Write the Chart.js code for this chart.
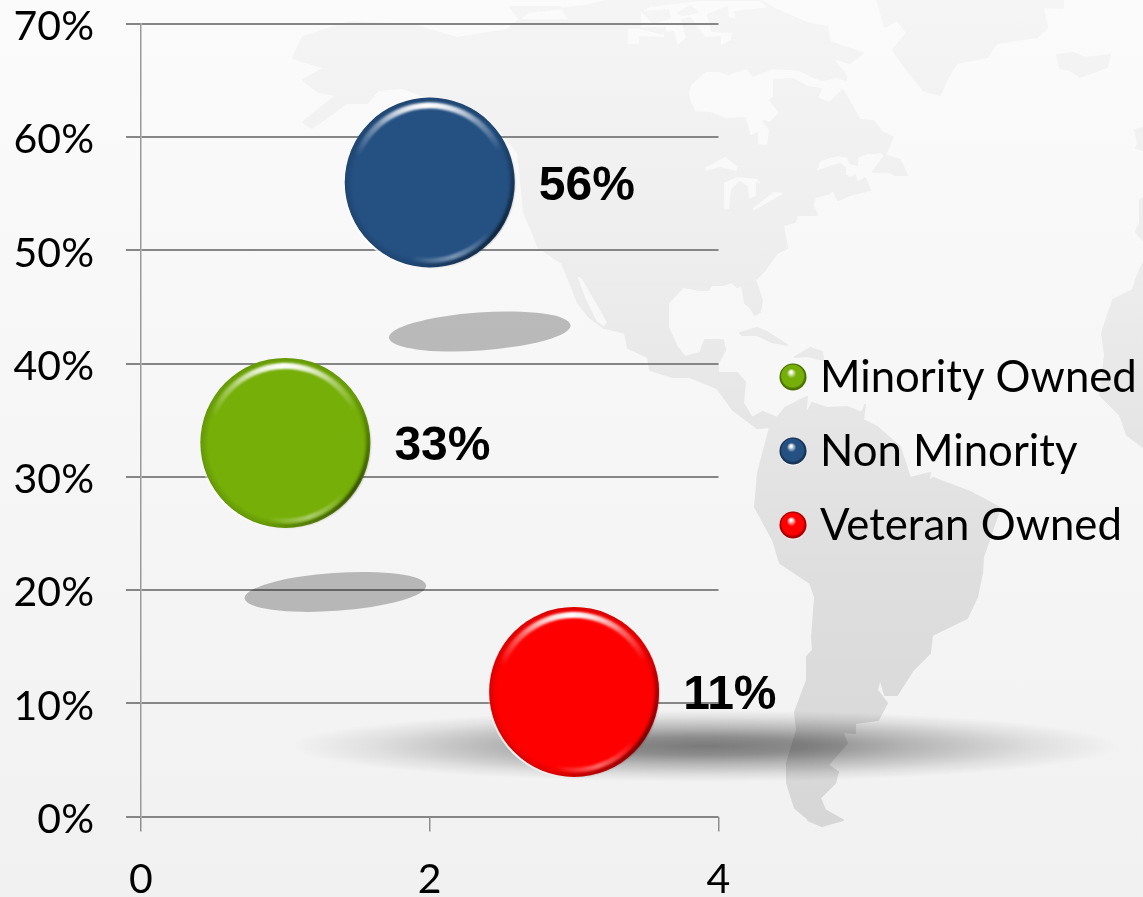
<!DOCTYPE html>
<html lang="en">
<head>
    <meta charset="UTF-8">
    <title>Ownership share</title>
    <script src="https://cdn.jsdelivr.net/npm/chart.js"></script>
    <style>
        html, body {
            margin: 0;
            padding: 0;
            width: 1143px;
            height: 897px;
            overflow: hidden;
        }

        #map, #chart {
            position: absolute;
            left: 0;
            top: 0;
        }
    </style>
</head>
<body>
    <!-- decorative world map behind the chart -->
    <svg id="map" width="1143" height="897" viewBox="0 0 1143 897">
        <defs>
            <linearGradient id="bg" x1="0" y1="0" x2="0" y2="1">
                <stop offset="0" stop-color="#fbfbfb"/>
                <stop offset="0.5" stop-color="#f6f6f6"/>
                <stop offset="1" stop-color="#f1f1f1"/>
            </linearGradient>
            <linearGradient id="land" gradientUnits="userSpaceOnUse" x1="0" y1="0" x2="0" y2="830">
                <stop offset="0" stop-color="#f5f5f5"/>
                <stop offset="0.3" stop-color="#eeeeee"/>
                <stop offset="0.5" stop-color="#e6e6e6"/>
                <stop offset="0.7" stop-color="#dedede"/>
                <stop offset="1" stop-color="#d6d6d6"/>
            </linearGradient>
            <radialGradient id="floor">
                <stop offset="0" stop-color="#000" stop-opacity="0.5"/>
                <stop offset="0.25" stop-color="#000" stop-opacity="0.42"/>
                <stop offset="0.5" stop-color="#000" stop-opacity="0.25"/>
                <stop offset="0.8" stop-color="#000" stop-opacity="0.08"/>
                <stop offset="1" stop-color="#000" stop-opacity="0"/>
            </radialGradient>
        </defs>
        <rect width="1143" height="897" fill="url(#bg)"/>
        <g stroke="url(#land)" stroke-width="2" stroke-linejoin="round">
        <path fill="url(#land)" fill-rule="evenodd" d="
            M303,37 L350,22 L413,25 L457,38 L507,30 L528,12 L585,6 L610,0 L760,0 L777,10 L807,23 L827,27 L830,42 L853,50 L863,53 L850,63 L832,58 L846,75 L846,80
            L837,77 L822,80 L813,77 L800,70 L773,68 L753,76 L747,68 L728,74 L720,71 L705,71 L690,85 L688,93 L690,103 L695,112 L710,113 L725,119 L745,118
            L750,137 L757,133 L757,145 L768,146 L770,130 L763,121 L770,123 L780,113 L770,100 L774,97 L774,80 L793,79 L808,87 L821,89 L817,98 L830,103 L843,90
            L860,120 L862,120 L873,121 L883,133 L893,137 L885,155 L880,152 L875,153 L867,153 L857,157 L857,165 L850,163 L848,157 L838,155 L820,160 L815,172
            L840,164 L845,168 L845,175 L850,178 L855,175 L857,183 L865,178 L870,190 L850,195 L838,200 L833,190 L830,193 L815,197 L813,205 L817,215 L797,215
            L795,222 L783,225 L787,248 L777,253 L765,270 L755,280 L762,300 L760,312 L755,315 L750,307 L745,303 L742,285 L737,287 L732,282 L722,285 L712,285
            L708,290 L700,290 L683,287 L668,303 L668,327 L677,347 L685,357 L700,353 L705,340 L723,340 L725,350 L718,363 L718,373 L737,373 L745,382 L743,403
            L752,418 L763,412 L777,418 L785,408 L807,397 L805,417 L812,403 L827,408 L847,407 L862,413 L865,405 L863,420 L877,427 L900,447 L910,478 L930,473
            L928,483 L920,490 L933,478 L970,492 L1000,508 L983,557 L982,573 L977,597 L967,618 L932,635 L930,653 L913,670 L897,695 L885,695 L880,678 L877,690
            L887,703 L878,720 L855,723 L855,733 L842,732 L847,743 L828,765 L838,772 L835,783 L820,798 L825,810 L843,820 L822,826 L808,820 L815,810 L807,818
            L795,808 L787,783 L787,763 L797,730 L795,712 L807,680 L807,657 L813,650 L812,637 L815,597 L810,583 L780,563 L773,540 L755,507 L758,473 L770,427
            L757,428 L733,410 L717,388 L690,377 L673,377 L650,370 L648,357 L628,348 L625,333 L605,328 L590,318 L578,303 L575,295 L562,263 L538,247 L533,233
            L524,213 L523,200 L518,153 L500,130 L460,110 L427,97 L403,88 L378,90 L367,103 L347,103 L312,128 L303,122 L337,95 L318,92 L303,80 L325,68 L293,58 Z
            M704,167 L725,156 L739,166 L737,172 L720,168 L705,172 Z
            M723,182 L737,176 L758,178 L764,188 L757,183 L757,197 L748,200 L747,187 L740,182 L732,190 L730,210 L723,210 Z
            M752,208 L773,191 L785,192 L783,195 L760,208 L753,212 Z
            M576,275 L582,277 L608,322 L604,328 L596,322 L585,300 Z
            M643,12 L668,10 L670,18 L653,23 Z
            M678,13 L690,6 L698,12 L683,15 Z
            M660,33 L673,32 L677,47 L687,38 L682,20 L690,18 L705,38 L720,37 L720,47 L732,40 L733,32 L712,31 L708,15 L727,7 L728,18 L737,20 L735,12 L770,8 L760,0 L700,0 L650,6 L640,12 L640,28 Z
            M640,37 L663,38 L665,45 L640,45 Z
            M510,7 L560,7 L570,20 L520,20 Z
            M627,28 L665,28 L665,44 L627,45 Z
        "/>
        <!-- Newfoundland, Greenland, Iceland, Caribbean, Africa and Europe -->
        <path fill="url(#land)" d="
            M885,155 L873,172 L890,172 L895,175 L907,175 L900,160 Z
            M877,0 L885,27 L897,20 L907,33 L893,50 L905,67 L923,90 L940,95 L948,77 L957,63 L987,57 L997,43 L1037,37 L1047,28 L1043,7 L1063,8 L1063,0 Z
            M1057,55 L1073,53 L1085,58 L1110,55 L1107,67 L1080,77 L1070,70 L1060,68 Z
            M740,333 L757,328 L767,332 L787,345 L772,342 L757,335 L742,335 Z
            M795,357 L810,348 L822,352 L823,360 L808,356 Z
            M1143,128 L1135,130 L1138,143 L1136,148 L1143,150 Z
            M1143,198 L1140,200 L1140,222 L1136,232 L1143,240 Z
            M1143,263 L1137,277 L1133,290 L1113,300 L1102,333 L1105,355 L1100,395 L1110,405 L1120,415 L1127,435 L1143,447 Z
        "/>
        </g>
        <ellipse cx="705" cy="746" rx="415" ry="36" fill="url(#floor)"/>
    </svg>

    <canvas id="chart" width="1143" height="897"></canvas>

    <script>
        var seriesNames = ['Minority Owned', 'Non Minority', 'Veteran Owned'];
        var xValues = [1, 2, 3];
        var yValues = [33, 56, 11];
        var seriesColors = ['#75af07', '#245082', '#fe0000'];
        var hasFloorShadow = [true, true, false];

        var BUBBLE_RADIUS = 85;
        var AXIS_FONT = 'Lato, "Noto Sans", sans-serif';

        // conic stroke, alpha peaks at "mid" degrees and fades out over "spread" degrees
        function arcGlow(c, x, y, r, width, rgb, alpha, mid, spread) {
            var start = (mid - spread) * Math.PI / 180;
            var g = c.createConicGradient(start, x, y);
            g.addColorStop(0, 'rgba(' + rgb + ',0)');
            g.addColorStop(spread / 360, 'rgba(' + rgb + ',' + alpha + ')');
            g.addColorStop(spread / 180, 'rgba(' + rgb + ',0)');
            c.strokeStyle = g;
            c.lineWidth = width;
            c.beginPath();
            c.arc(x, y, r, start, (mid + spread) * Math.PI / 180);
            c.stroke();
        }

        // floor shadows sit under the bubbles but above the grid
        var floorShadows = {
            id: 'floorShadows',
            beforeDatasetsDraw: function (chart) {
                var c = chart.ctx;
                chart.data.datasets.forEach(function (ds, i) {
                    if (!hasFloorShadow[i]) return;
                    var p = chart.getDatasetMeta(i).data[0];
                    c.save();
                    c.fillStyle = 'rgba(0,0,0,0.25)';
                    c.beginPath();
                    c.ellipse(p.x + 50, p.y + 149, 91, 19, -4 * Math.PI / 180, 0, Math.PI * 2);
                    c.fill();
                    c.restore();
                });
            }
        };

        // bevel on the bubbles plus the value labels beside them
        var bubbleDecor = {
            id: 'bubbleDecor',
            afterDatasetsDraw: function (chart) {
                var c = chart.ctx;
                chart.data.datasets.forEach(function (ds, i) {
                    var p = chart.getDatasetMeta(i).data[0];
                    var r = BUBBLE_RADIUS;
                    c.save();
                    var rim = c.createRadialGradient(p.x, p.y, r - 8, p.x, p.y, r);
                    rim.addColorStop(0, 'rgba(0,0,0,0)');
                    rim.addColorStop(1, 'rgba(0,0,0,0.14)');
                    c.fillStyle = rim;
                    c.beginPath();
                    c.arc(p.x, p.y, r, 0, Math.PI * 2);
                    c.fill();
                    c.filter = 'blur(1px)';
                    arcGlow(c, p.x, p.y, r - 2, 4, '0,0,0', 0.5, 35, 70);
                    arcGlow(c, p.x, p.y, r - 8, 6, '255,255,255', 1, 268, 68);
                    arcGlow(c, p.x, p.y, r - 8, 3, '255,255,255', 0.9, 268, 40);
                    arcGlow(c, p.x, p.y, r - 7, 5, '255,255,255', 0.4, 72, 32);
                    c.filter = 'none';
                    arcGlow(c, p.x, p.y, r + 1, 2, '255,255,255', 0.9, 135, 45);
                    c.restore();

                    c.save();
                    c.fillStyle = '#000';
                    c.font = 'bold 48px "Liberation Sans", Arial, sans-serif';
                    c.textAlign = 'left';
                    c.textBaseline = 'middle';
                    c.fillText(yValues[i] + '%', p.x + r + 24, p.y + 4);
                    c.restore();
                });
            }
        };

        // legend with small glossy balls, to the right of the plot
        var sideLegend = {
            id: 'sideLegend',
            afterDraw: function (chart) {
                var c = chart.ctx;
                seriesNames.forEach(function (name, i) {
                    var x = 793, y = 377 + i * 74, r = 13.5;
                    c.save();
                    c.fillStyle = '#ffffff';
                    c.beginPath();
                    c.arc(x, y + 1, r, 0, Math.PI * 2);
                    c.fill();
                    var g = c.createRadialGradient(x - 2, y - 5, 1, x, y, r);
                    g.addColorStop(0, '#ffffff');
                    g.addColorStop(0.3, seriesColors[i]);
                    g.addColorStop(0.8, seriesColors[i]);
                    g.addColorStop(1, 'rgba(0,0,0,0.3)');
                    c.fillStyle = seriesColors[i];
                    c.beginPath();
                    c.arc(x, y, r, 0, Math.PI * 2);
                    c.fill();
                    c.fillStyle = g;
                    c.fill();
                    c.restore();

                    c.save();
                    c.fillStyle = '#000';
                    c.font = '43.7px ' + AXIS_FONT;
                    c.textAlign = 'left';
                    c.textBaseline = 'middle';
                    c.fillText(name, 820, y + 1);
                    c.restore();
                });
            }
        };

        var ctx = document.getElementById('chart').getContext('2d');
        var chart = new Chart(ctx, {
            type: 'bubble',
            data: {
                datasets: seriesNames.map(function (name, i) {
                    return {
                        label: name,
                        data: [{ x: xValues[i], y: yValues[i] }],
                        radius: BUBBLE_RADIUS,
                        backgroundColor: seriesColors[i],
                        borderWidth: 0,
                        hoverRadius: 0,
                        clip: false
                    };
                })
            },
            options: {
                responsive: false,
                animation: false,
                events: [],
                layout: { autoPadding: false, padding: { top: 24, right: 424.5 } },
                plugins: {
                    legend: { display: false },
                    tooltip: { enabled: false }
                },
                scales: {
                    x: {
                        type: 'linear',
                        min: 0,
                        max: 4,
                        afterFit: function (s) { s.height = 80.5; },
                        ticks: {
                            stepSize: 2,
                            padding: 24,
                            color: '#000',
                            maxRotation: 0,
                            font: { family: AXIS_FONT, size: 41 }
                        },
                        border: { display: false },
                        grid: { drawOnChartArea: false, color: '#8f8f8f', lineWidth: 1.5, tickLength: 15 }
                    },
                    y: {
                        min: 0,
                        max: 70,
                        afterFit: function (s) {
                            // tick padding would otherwise push the plot top down
                            s.width = 141;
                            s.paddingTop = 0;
                            s.paddingBottom = 0;
                        },
                        ticks: {
                            stepSize: 10,
                            padding: 32,
                            labelOffset: 3,
                            color: '#000',
                            font: { family: AXIS_FONT, size: 41 },
                            callback: function (v) { return v + '%'; }
                        },
                        border: { display: true, color: '#9a9a9a', width: 1.5 },
                        grid: { color: '#868686', lineWidth: 2, tickLength: 15 }
                    }
                }
            },
            plugins: [floorShadows, bubbleDecor, sideLegend]
        });
    </script>
</body>
</html>
